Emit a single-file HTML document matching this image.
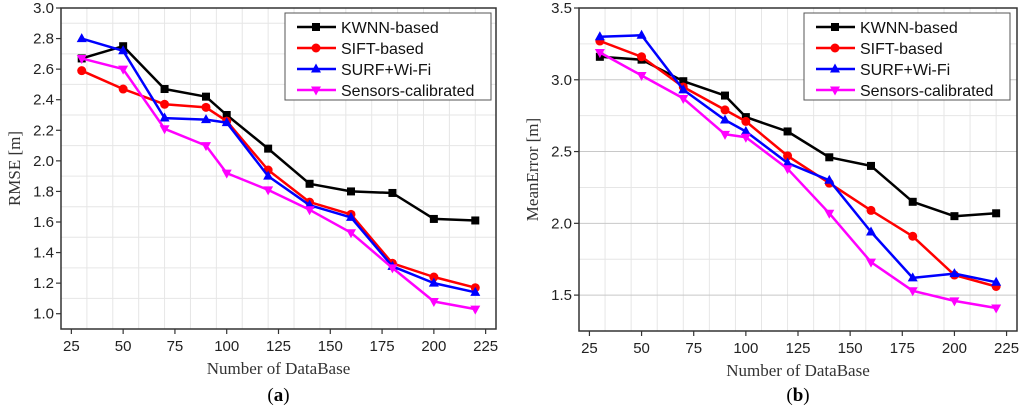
<!DOCTYPE html>
<html><head><meta charset="utf-8"><style>
body{margin:0;background:#fff;width:1024px;height:412px;overflow:hidden}
svg{display:block}
text{font-family:"Liberation Sans",Arial,sans-serif}
</style></head><body>
<svg id="svg" width="1024" height="412" xmlns="http://www.w3.org/2000/svg"></svg>
<script>
const xCats=[30,50,70,90,100,120,140,160,180,200,220];
const seriesNames=["KWNN-based","SIFT-based","SURF+Wi-Fi","Sensors-calibrated"];
const seriesColors=["#000000","#ff0000","#0000ff","#ff00ff"];
const rmseKwnn=[2.67,2.75,2.47,2.42,2.30,2.08,1.85,1.80,1.79,1.62,1.61];
const rmseSift=[2.59,2.47,2.37,2.35,2.26,1.94,1.73,1.65,1.33,1.24,1.17];
const rmseSurf=[2.80,2.72,2.28,2.27,2.25,1.90,1.71,1.63,1.31,1.20,1.14];
const rmseSens=[2.67,2.60,2.21,2.10,1.92,1.81,1.68,1.53,1.30,1.08,1.03];
const meanKwnn=[3.16,3.14,2.99,2.89,2.74,2.64,2.46,2.40,2.15,2.05,2.07];
const meanSift=[3.27,3.16,2.95,2.79,2.71,2.47,2.28,2.09,1.91,1.64,1.56];
const meanSurf=[3.30,3.31,2.93,2.72,2.64,2.42,2.30,1.94,1.62,1.65,1.59];
const meanSens=[3.19,3.03,2.87,2.62,2.60,2.38,2.07,1.73,1.53,1.46,1.41];
const xTicks=[25,50,75,100,125,150,175,200,225];
const rmseTicks=["1.0","1.2","1.4","1.6","1.8","2.0","2.2","2.4","2.6","2.8","3.0"];
const meanTicks=["1.5","2.0","2.5","3.0","3.5"];

const NS="http://www.w3.org/2000/svg";
const svg=document.getElementById('svg');
const SERIF='font-family:"Liberation Serif","Times New Roman",serif';
function mk(tag,attrs,parent,txt){const e=document.createElementNS(NS,tag);for(const k in attrs)e.setAttribute(k,attrs[k]);if(txt!==undefined)e.textContent=txt;(parent||svg).appendChild(e);return e;}

function chart(o){
  const g=mk('g',{});
  
  
  const X=v=>o.L+(v-20)/(210)*(o.R-o.L);
  const Y=v=>o.B-(v-o.ymin)/(o.ymax-o.ymin)*(o.B-o.T);
  for(let v=20;v<=230;v+=12.5){const x=X(v);if(x<=o.L||x>=o.R)continue;
    const gl=mk('line',{x1:x,x2:x,y1:o.T,y2:o.B,stroke:(v%25===0)?'#c8c8c8':'#e6e6e6','stroke-width':1},g);
    }
  for(let v=o.ymin;v<=o.ymax+1e-6;v+=o.minor){const y=Y(v);if(y<=o.T+0.5||y>=o.B-0.5)continue;
    const major=Math.abs(Math.round(v/o.major)*o.major-v)<1e-6;
    const gl=mk('line',{x1:o.L,x2:o.R,y1:y,y2:y,stroke:major?'#c8c8c8':'#e6e6e6','stroke-width':1},g);
    }
  const box=mk('rect',{x:o.L,y:o.T,width:o.R-o.L,height:o.B-o.T,fill:'none',stroke:'#333','stroke-width':1.5},g);
  
  xTicks.forEach(t=>{const x=X(t);
    mk('line',{x1:x,x2:x,y1:o.B,y2:o.B+5,stroke:'#333','stroke-width':1.2},g);
    const tx=mk('text',{x:x,y:o.B+22,'text-anchor':'middle','font-size':15,fill:'#222'},g,String(t));
    });
  o.ticks.forEach(t=>{const y=Y(parseFloat(t));
    mk('line',{x1:o.L-5,x2:o.L,y1:y,y2:y,stroke:'#333','stroke-width':1.2},g);
    const tx=mk('text',{x:o.L-7,y:y+5,'text-anchor':'end','font-size':15,fill:'#222'},g,t);
    });
  const xt=mk('text',{x:(o.L+o.R)/2,y:o.B+45,'text-anchor':'middle','font-size':17,fill:'#333',style:SERIF},g,'Number of DataBase');
  
  const yc=(o.T+o.B)/2;
  const yt=mk('text',{x:o.ytx,y:yc,'text-anchor':'middle','font-size':17,fill:'#333',style:SERIF,transform:`rotate(-90 ${o.ytx} ${yc})`},g,o.ytitle);
  
  const cap=mk('text',{x:(o.L+o.R)/2,y:401,'text-anchor':'middle','font-size':19,fill:'#000',style:SERIF},g);
  
  mk('tspan',{},cap,'(');mk('tspan',{'font-weight':'bold'},cap,o.cap);mk('tspan',{},cap,')');
  o.data.forEach((arr,i)=>{
    const sg=mk('g',{},g);
    
    
    const pts=arr.map((v,j)=>X(xCats[j]).toFixed(1)+','+Y(v).toFixed(1)).join(' ');
    mk('polyline',{points:pts,fill:'none',stroke:seriesColors[i],'stroke-width':2.5,'stroke-linejoin':'round'},sg);
    arr.forEach((v,j)=>{const m=marker(i,X(xCats[j]),Y(v),sg);
      
      });
  });
  const lg=mk('g',{},g);
  
  
  mk('rect',{x:o.lx,y:13,width:206,height:87,fill:'#fff',stroke:'#555','stroke-width':1},lg);
  seriesNames.forEach((n,i)=>{const y=27+i*21;
    const e=mk('g',{},lg);
    
    
    mk('line',{x1:o.lx+12,x2:o.lx+51,y1:y,y2:y,stroke:seriesColors[i],'stroke-width':2.5},e);
    marker(i,o.lx+31,y,e);
    mk('text',{x:o.lx+56,y:y+6,'font-size':16,fill:'#111'},e,n);});
}
function marker(i,x,y,p){
  const c=seriesColors[i];
  if(i===0)return mk('rect',{x:x-4,y:y-4,width:8,height:8,fill:c},p);
  if(i===1)return mk('circle',{cx:x,cy:y,r:4.5,fill:c},p);
  if(i===2)return mk('polygon',{points:`${x},${y-5.5} ${x+5},${y+3.5} ${x-5},${y+3.5}`,fill:c},p);
  return mk('polygon',{points:`${x},${y+5.5} ${x+5},${y-3.5} ${x-5},${y-3.5}`,fill:c},p);
}
chart({name:'rmse-chart',L:61,R:496,T:8,B:329,ymin:0.9,ymax:3.0,major:0.2,minor:0.2,ticks:rmseTicks,
  ytitle:'RMSE [m]',ytx:20,cap:'a',lx:285,data:[rmseKwnn,rmseSift,rmseSurf,rmseSens]});
chart({name:'mean-error-chart',L:579,R:1017,T:8,B:331,ymin:1.25,ymax:3.5,major:0.5,minor:0.25,ticks:meanTicks,
  ytitle:'MeanError [m]',ytx:538,cap:'b',lx:804,data:[meanKwnn,meanSift,meanSurf,meanSens]});
</script>
</body></html>
